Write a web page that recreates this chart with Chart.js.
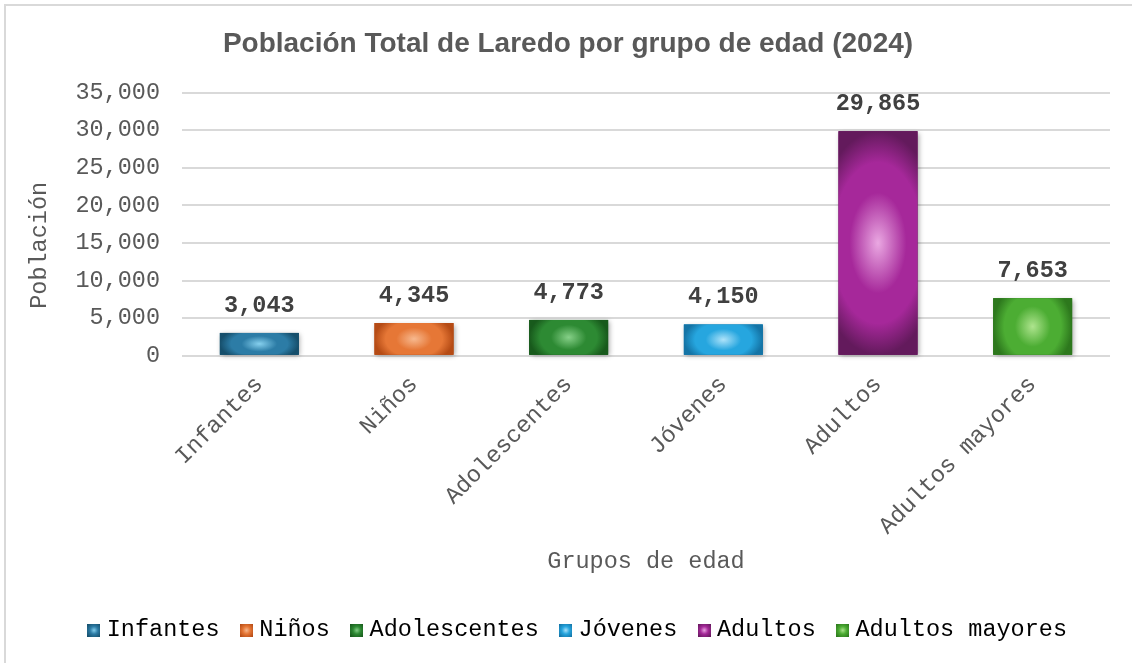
<!DOCTYPE html>
<html>
<head>
<meta charset="utf-8">
<script src="https://cdn.jsdelivr.net/npm/chart.js" type="text/javascript"></script>
<style>
  html, body { margin: 0; padding: 0; background: #ffffff; overflow: hidden; }
  #grafica { display: block; }
</style>
</head>
<body>
<canvas id="grafica" width="1132" height="663"></canvas>
<script>
// ---------------- Datos ----------------
const categorias = ["Infantes", "Niños", "Adolescentes", "Jóvenes", "Adultos", "Adultos mayores"];
const poblacion = [3043, 4345, 4773, 4150, 29865, 7653];
const ejeYMax = 35000;
const ejeYPaso = 5000;

// colores del degradado (centro, medio, borde) por grupo
const coloresCentro = ["#86d0ee", "#f7b98f", "#86d088", "#aee3fa", "#eaa8e2", "#aee48e"];
const coloresMedio  = ["#2c7ca6", "#e67736", "#2d8a33", "#26a6df", "#a6289a", "#4cad33"];
const coloresBorde  = ["#164f6c", "#b54b15", "#185a1c", "#1474a6", "#631a5c", "#2d781d"];

const fuenteMono = "'Liberation Mono', 'Courier New', monospace";

// ---------------- Cuadritos de la leyenda ----------------
function crearCuadro(i) {
  const c = document.createElement("canvas");
  c.width = 13;
  c.height = 13;
  const g2 = c.getContext("2d");
  const g = g2.createRadialGradient(6.5, 6.5, 0, 6.5, 6.5, 8.5);
  g.addColorStop(0, coloresCentro[i]);
  g.addColorStop(0.45, coloresMedio[i]);
  g.addColorStop(1, coloresBorde[i]);
  g2.fillStyle = g;
  g2.fillRect(0, 0, 13, 13);
  return c;
}
const cuadros = categorias.map((_, i) => crearCuadro(i));

// ---------------- Plugin: marco, degradado y etiquetas ----------------
const pluginMarco = {
  id: "marco",
  afterLayout(chart) {
    // la leyenda del original queda algo corrida a la derecha
    chart.legend.left += 12;
    chart.legend.right += 12;
  },
  beforeDraw(chart) {
    const ctx = chart.ctx;
    ctx.save();
    ctx.fillStyle = "#ffffff";
    ctx.fillRect(0, 0, chart.width, chart.height);
    ctx.strokeStyle = "#d9d9d9";
    ctx.lineWidth = 2;
    ctx.strokeRect(5, 5, chart.width + 50, chart.height + 50);
    ctx.restore();
  }
};

const pluginBarras = {
  id: "barrasDegradado",
  afterDatasetsDraw(chart) {
    const ctx = chart.ctx;
    const meta = chart.getDatasetMeta(0);
    meta.data.forEach((barra, i) => {
      const { x, y, base, width } = barra.getProps(["x", "y", "base", "width"], true);
      const izq = x - width / 2;
      const alto = base - y;

      // sombra suave
      ctx.save();
      ctx.shadowColor = "rgba(0,0,0,0.35)";
      ctx.shadowBlur = 5;
      ctx.shadowOffsetX = 1.5;
      ctx.shadowOffsetY = 1.5;
      ctx.fillStyle = coloresBorde[i];
      ctx.fillRect(izq, y, width, alto);
      ctx.restore();

      // degradado desde el centro (el lado corto se estira)
      const a = width / 2, b = alto / 2;
      const sx = a < b ? a * 1.6 : a;
      const sy = b < a ? b * 1.6 : b;
      ctx.save();
      ctx.beginPath();
      ctx.rect(izq, y, width, alto);
      ctx.clip();
      ctx.translate(x, y + b);
      ctx.scale(sx, sy);
      const g = ctx.createRadialGradient(0, 0, 0, 0, 0, 1);
      g.addColorStop(0, coloresCentro[i]);
      g.addColorStop(0.45, coloresMedio[i]);
      g.addColorStop(0.72, coloresMedio[i]);
      g.addColorStop(1, coloresBorde[i]);
      ctx.fillStyle = g;
      ctx.fillRect(-2, -2, 4, 4);
      ctx.restore();

      // etiqueta de valor
      ctx.save();
      ctx.font = "bold 23.5px " + fuenteMono;
      ctx.fillStyle = "#404040";
      ctx.textAlign = "center";
      ctx.textBaseline = "middle";
      ctx.fillText(poblacion[i].toLocaleString("en-US"), x, y - 27);
      ctx.restore();
    });
  }
};

// ---------------- Gráfica ----------------
new Chart(document.getElementById("grafica").getContext("2d"), {
  type: "bar",
  data: {
    labels: categorias,
    datasets: [{
      label: "Población",
      data: poblacion,
      backgroundColor: coloresMedio,
      borderWidth: 0,
      categoryPercentage: 1,
      barPercentage: 0.51
    }]
  },
  options: {
    responsive: false,
    animation: false,
    layout: { padding: { left: 26, right: 22, top: 12, bottom: 11 } },
    plugins: {
      title: {
        display: true,
        text: "Población Total de Laredo por grupo de edad (2024)",
        color: "#595959",
        font: { family: "'Liberation Sans', Arial, sans-serif", size: 28, weight: "bold" },
        padding: { top: 15, bottom: 32 }
      },
      legend: {
        position: "bottom",
        labels: {
          usePointStyle: true,
          pointStyleWidth: 2,
          padding: 26,
          color: "#595959",
          font: { family: fuenteMono, size: 23.5 },
          generateLabels: () => categorias.map((nombre, i) => ({
            text: nombre,
            pointStyle: cuadros[i],
            fillStyle: coloresMedio[i],
            strokeStyle: coloresMedio[i],
            lineWidth: 0,
            hidden: false,
            index: i,
            datasetIndex: 0
          }))
        },
        onClick: () => {}
      },
      tooltip: { enabled: false }
    },
    scales: {
      x: {
        grid: { display: false },
        border: { display: false },
        ticks: {
          color: "#595959",
          font: { family: fuenteMono, size: 23.5 },
          maxRotation: 45,
          minRotation: 45,
          padding: 7
        },
        title: {
          display: true,
          text: "Grupos de edad",
          color: "#595959",
          font: { family: fuenteMono, size: 23.5 },
          padding: { top: 0, bottom: 17 }
        }
      },
      y: {
        min: 0,
        max: ejeYMax,
        afterFit(scale) { scale.width = 156; },
        grid: { color: "#d9d9d9", lineWidth: 2, drawTicks: false },
        border: { display: false },
        ticks: {
          stepSize: ejeYPaso,
          color: "#595959",
          padding: 22,
          font: { family: fuenteMono, size: 23.5 },
          callback: (v) => v.toLocaleString("en-US")
        },
        title: {
          display: true,
          text: "Población   ",
          color: "#595959",
          font: { family: fuenteMono, size: 23.5 },
          padding: { top: 0, bottom: 0 }
        }
      }
    }
  },
  plugins: [pluginMarco, pluginBarras]
});
</script>
</body>
</html>
